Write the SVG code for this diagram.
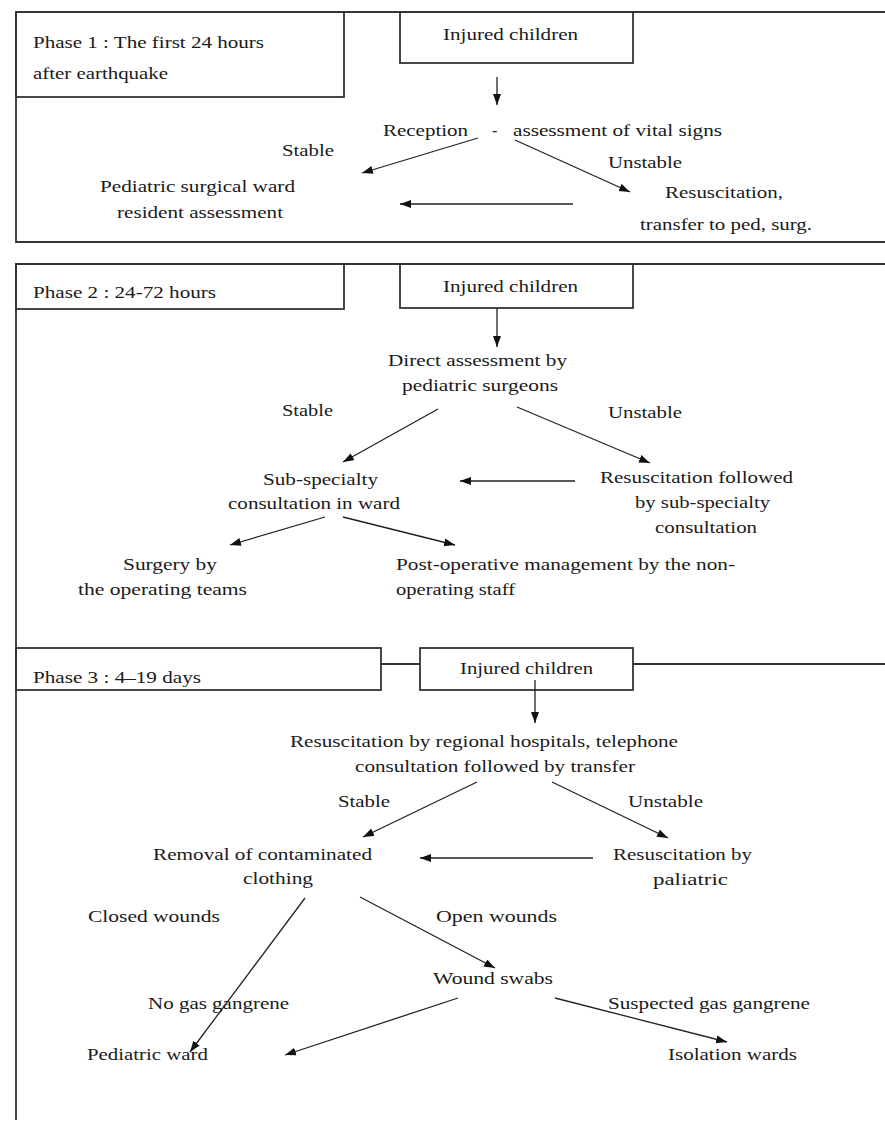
<svg xmlns="http://www.w3.org/2000/svg" width="885" height="1123" viewBox="0 0 885 1123">
<style>
text{font-family:"Liberation Serif","Times New Roman",serif;font-size:16px;fill:#1a1a1a}
.frame{fill:none;stroke:#333;stroke-width:1.8}
.conn line{stroke:#222;stroke-width:1.3;marker-end:url(#ah)}
</style>
<defs>
<marker id="ah" markerUnits="userSpaceOnUse" markerWidth="12" markerHeight="10" refX="11" refY="4" orient="auto">
<path d="M0,0 L11,4 L0,8 z" fill="#111"/>
</marker>
</defs>
<rect width="885" height="1123" fill="#fff"/>

<g id="frames">
<path class="frame" d="M885,12 H16 V242 H885"/>
<path class="frame" d="M885,264 H16 V1120"/>
<path class="frame" d="M381,664 H420 M633,664 H885"/>
</g>

<g id="phase1-label"><rect class="frame" x="16" y="12" width="328" height="85"/>
<text x="33" y="48" textLength="231" lengthAdjust="spacingAndGlyphs">Phase 1 : The first 24 hours</text>
<text x="33" y="79" textLength="135" lengthAdjust="spacingAndGlyphs">after earthquake</text></g>
<g id="p1-injured"><rect class="frame" x="400" y="12" width="233" height="51"/>
<text x="443" y="40" textLength="135" lengthAdjust="spacingAndGlyphs">Injured children</text></g>
<g id="p1-reception"><text y="136"><tspan x="383" textLength="85" lengthAdjust="spacingAndGlyphs">Reception</tspan><tspan x="492">-</tspan><tspan x="513" textLength="209" lengthAdjust="spacingAndGlyphs">assessment of vital signs</tspan></text></g>
<g id="p1-stable"><text x="282" y="156" textLength="52" lengthAdjust="spacingAndGlyphs">Stable</text></g>
<g id="p1-unstable"><text x="608" y="168" textLength="74" lengthAdjust="spacingAndGlyphs">Unstable</text></g>
<g id="p1-ward"><text x="100" y="192" textLength="195" lengthAdjust="spacingAndGlyphs">Pediatric surgical ward</text>
<text x="117" y="218" textLength="166" lengthAdjust="spacingAndGlyphs">resident assessment</text></g>
<g id="p1-resus"><text x="665" y="198" textLength="118" lengthAdjust="spacingAndGlyphs">Resuscitation,</text>
<text x="640" y="230" textLength="172" lengthAdjust="spacingAndGlyphs">transfer to ped, surg.</text></g>

<g id="phase2-label"><rect class="frame" x="16" y="264" width="328" height="45"/>
<text x="33" y="298" textLength="183" lengthAdjust="spacingAndGlyphs">Phase 2 : 24-72 hours</text></g>
<g id="p2-injured"><rect class="frame" x="400" y="264" width="233" height="44"/>
<text x="443" y="292" textLength="135" lengthAdjust="spacingAndGlyphs">Injured children</text></g>
<g id="p2-direct"><text x="388" y="366" textLength="179" lengthAdjust="spacingAndGlyphs">Direct assessment by</text>
<text x="402" y="391" textLength="156" lengthAdjust="spacingAndGlyphs">pediatric surgeons</text></g>
<g id="p2-stable"><text x="282" y="416" textLength="51" lengthAdjust="spacingAndGlyphs">Stable</text></g>
<g id="p2-unstable"><text x="608" y="418" textLength="74" lengthAdjust="spacingAndGlyphs">Unstable</text></g>
<g id="p2-sub"><text x="263" y="485" textLength="115" lengthAdjust="spacingAndGlyphs">Sub-specialty</text>
<text x="228" y="509" textLength="172" lengthAdjust="spacingAndGlyphs">consultation in ward</text></g>
<g id="p2-resus"><text x="600" y="483" textLength="193" lengthAdjust="spacingAndGlyphs">Resuscitation followed</text>
<text x="635" y="508" textLength="135" lengthAdjust="spacingAndGlyphs">by sub-specialty</text>
<text x="655" y="533" textLength="102" lengthAdjust="spacingAndGlyphs">consultation</text></g>
<g id="p2-surgery"><text x="123" y="570" textLength="94" lengthAdjust="spacingAndGlyphs">Surgery by</text>
<text x="78" y="595" textLength="169" lengthAdjust="spacingAndGlyphs">the operating teams</text></g>
<g id="p2-postop"><text x="396" y="570" textLength="339" lengthAdjust="spacingAndGlyphs">Post-operative management by the non-</text>
<text x="396" y="595" textLength="119" lengthAdjust="spacingAndGlyphs">operating staff</text></g>

<g id="phase3-label"><rect class="frame" x="16" y="648" width="365" height="42"/>
<text x="33" y="683" textLength="168" lengthAdjust="spacingAndGlyphs">Phase 3 : 4–19 days</text></g>
<g id="p3-injured"><rect class="frame" x="420" y="648" width="213" height="42"/>
<text x="460" y="674" textLength="133" lengthAdjust="spacingAndGlyphs">Injured children</text></g>
<g id="p3-regional"><text x="290" y="747" textLength="388" lengthAdjust="spacingAndGlyphs">Resuscitation by regional hospitals, telephone</text>
<text x="355" y="772" textLength="280" lengthAdjust="spacingAndGlyphs">consultation followed by transfer</text></g>
<g id="p3-stable"><text x="338" y="807" textLength="52" lengthAdjust="spacingAndGlyphs">Stable</text></g>
<g id="p3-unstable"><text x="628" y="807" textLength="75" lengthAdjust="spacingAndGlyphs">Unstable</text></g>
<g id="p3-removal"><text x="153" y="860" textLength="219" lengthAdjust="spacingAndGlyphs">Removal of contaminated</text>
<text x="243" y="884" textLength="70" lengthAdjust="spacingAndGlyphs">clothing</text></g>
<g id="p3-resus"><text x="613" y="860" textLength="139" lengthAdjust="spacingAndGlyphs">Resuscitation by</text>
<text x="653" y="885" textLength="75" lengthAdjust="spacingAndGlyphs">paliatric</text></g>
<g id="p3-closed"><text x="88" y="922" textLength="132" lengthAdjust="spacingAndGlyphs">Closed wounds</text></g>
<g id="p3-open"><text x="436" y="922" textLength="121" lengthAdjust="spacingAndGlyphs">Open  wounds</text></g>
<g id="p3-swabs"><text x="433" y="984" textLength="120" lengthAdjust="spacingAndGlyphs">Wound swabs</text></g>
<g id="p3-nogas"><text x="148" y="1009" textLength="141" lengthAdjust="spacingAndGlyphs">No gas gangrene</text></g>
<g id="p3-suspected"><text x="608" y="1009" textLength="202" lengthAdjust="spacingAndGlyphs">Suspected gas gangrene</text></g>
<g id="p3-pedward"><text x="87" y="1060" textLength="121" lengthAdjust="spacingAndGlyphs">Pediatric ward</text></g>
<g id="p3-isolation"><text x="668" y="1060" textLength="129" lengthAdjust="spacingAndGlyphs">Isolation wards</text></g>

<g id="connectors" class="conn">
<line x1="497" y1="77" x2="497" y2="105"/>
<line x1="478" y1="138" x2="362" y2="173"/>
<line x1="515" y1="140" x2="630" y2="192"/>
<line x1="573" y1="204" x2="400" y2="204"/>
<line x1="497" y1="308" x2="497" y2="347"/>
<line x1="438" y1="409" x2="343" y2="462"/>
<line x1="517" y1="407" x2="650" y2="463"/>
<line x1="575" y1="481" x2="460" y2="481"/>
<line x1="325" y1="517" x2="230" y2="545"/>
<line x1="343" y1="517" x2="455" y2="545"/>
<line x1="535" y1="680" x2="535" y2="723"/>
<line x1="477" y1="782" x2="363" y2="837"/>
<line x1="552" y1="782" x2="668" y2="838"/>
<line x1="593" y1="858" x2="420" y2="858"/>
<line x1="305" y1="898" x2="190" y2="1052"/>
<line x1="360" y1="897" x2="495" y2="968"/>
<line x1="458" y1="998" x2="285" y2="1055"/>
<line x1="555" y1="998" x2="727" y2="1042"/>
</g>
</svg>
